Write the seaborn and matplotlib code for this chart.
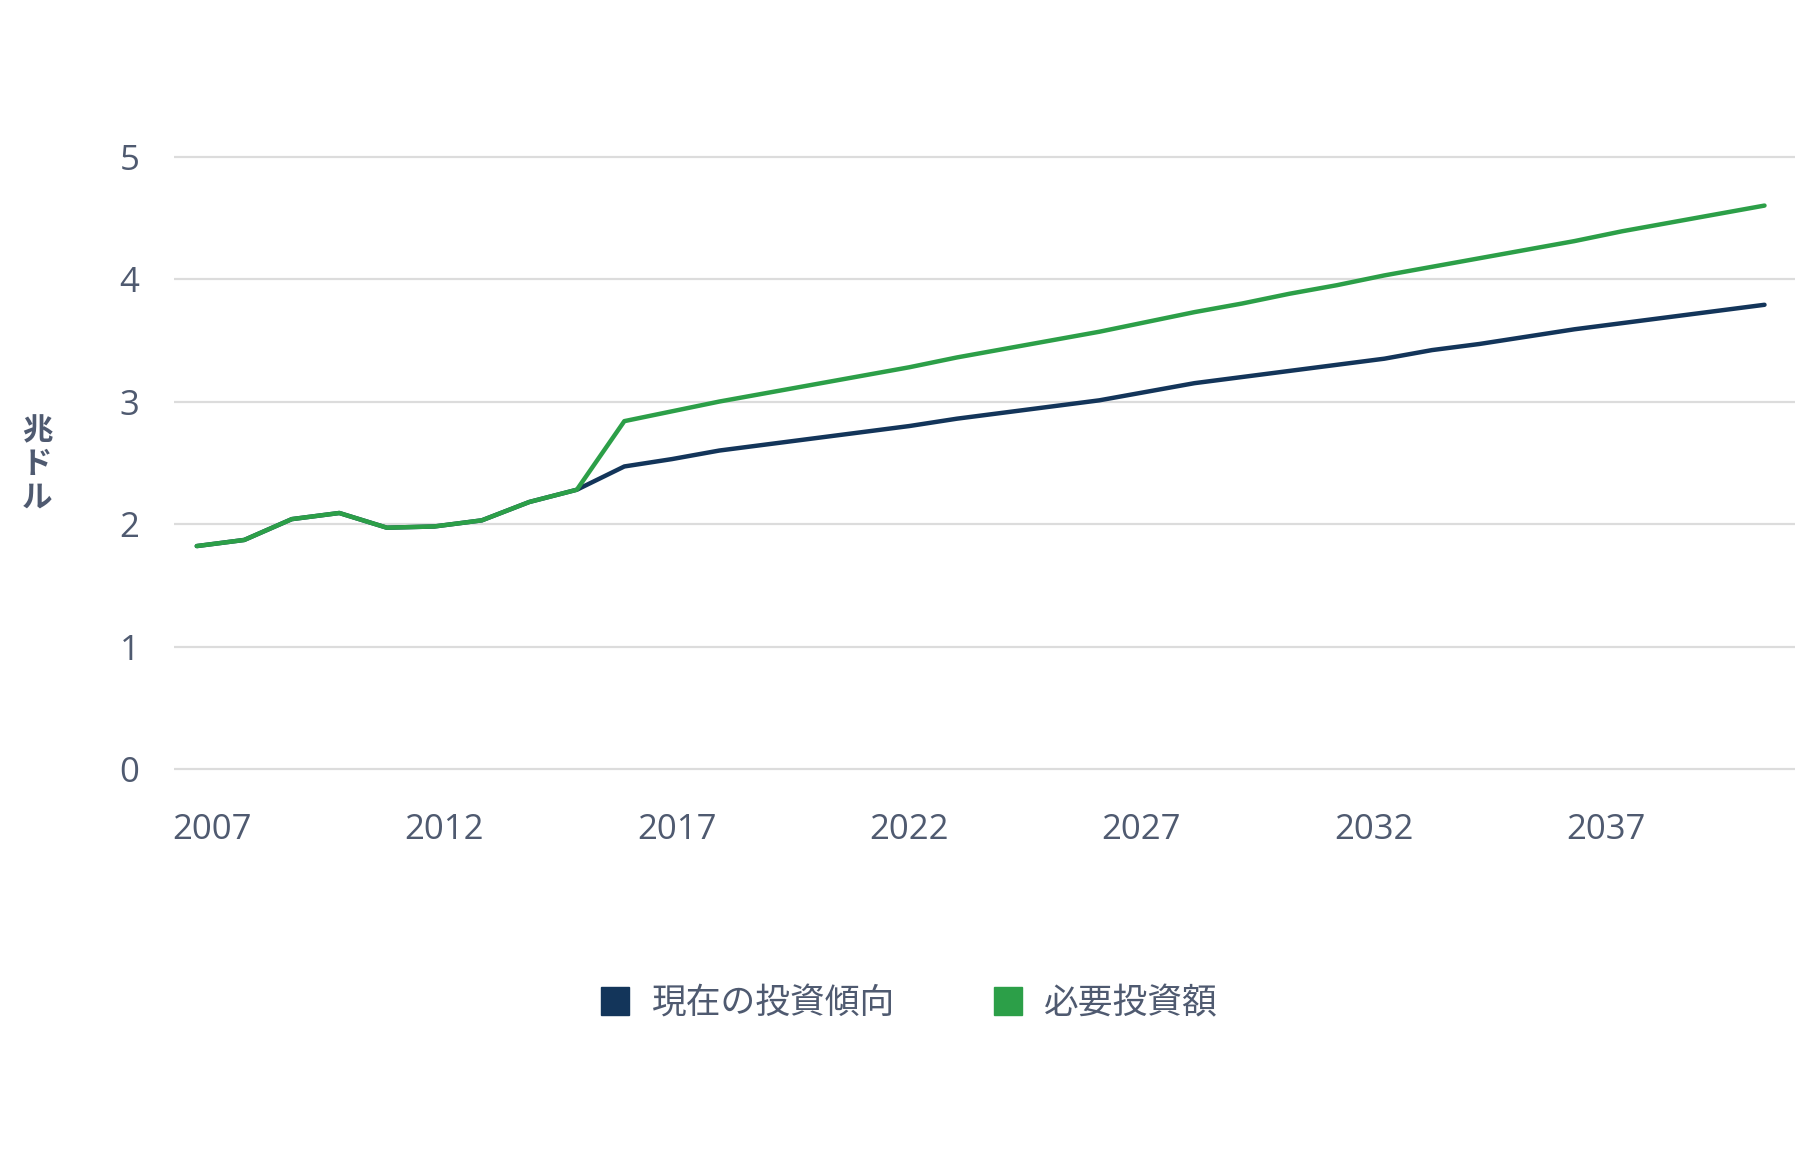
import numpy as np
import pandas as pd
import matplotlib
matplotlib.use("Agg")
import matplotlib.pyplot as plt
from matplotlib.lines import Line2D
import seaborn as sns

years = list(range(2007, 2041))
current_trend = [1.82, 1.87, 2.04, 2.09, 1.97, 1.98, 2.03, 2.18, 2.28,
                 2.47, 2.53, 2.60, 2.65, 2.70, 2.75, 2.80, 2.86, 2.91, 2.96,
                 3.01, 3.08, 3.15, 3.20, 3.25, 3.30, 3.35, 3.42, 3.47, 3.53,
                 3.59, 3.64, 3.69, 3.74, 3.79]
required = [1.82, 1.87, 2.04, 2.09, 1.97, 1.98, 2.03, 2.18, 2.28,
            2.84, 2.92, 3.00, 3.07, 3.14, 3.21, 3.28, 3.36, 3.43, 3.50,
            3.57, 3.65, 3.73, 3.80, 3.88, 3.95, 4.03, 4.10, 4.17, 4.24,
            4.31, 4.39, 4.46, 4.53, 4.60]
series_names = ["現在の投資傾向", "必要投資額"]
series_colors = ["#13355a", "#2c9f48"]
x_ticks = [2007, 2012, 2017, 2022, 2027, 2032, 2037]
y_ticks = [0, 1, 2, 3, 4, 5]
y_label = "兆\nド\nル"

df = pd.DataFrame({
    "year": years * 2,
    "value": current_trend + required,
    "series": [series_names[0]] * len(years) + [series_names[1]] * len(years),
})

sns.set_theme(style="white")
plt.rcParams["font.family"] = ["Open Sans", "Noto Sans CJK JP", "DejaVu Sans"]
text_color = "#4f5a70"

fig = plt.figure(figsize=(18.18, 11.6), dpi=100)
ax = fig.add_axes([0.0957, 0.3318, 0.8916, 0.5385])

sns.lineplot(data=df, x="year", y="value", hue="series", hue_order=series_names,
             palette=series_colors, linewidth=3.2, ax=ax, legend=False,
             estimator=None, sort=True)

ax.set_xlim(2006.52, 2040.64)
ax.set_ylim(-0.05, 5.05)
# tick labels in the reference sit on a slightly compressed scale
tick_pos = [2007.32 + (t - 2007) * 0.978 for t in x_ticks]
ax.set_xticks(tick_pos)
ax.set_xticklabels([str(t) for t in x_ticks])
ax.set_yticks(y_ticks)
ax.set_yticklabels([str(t) for t in y_ticks])
ax.grid(axis="y", color="#dcdcdc", linewidth=1.6)
ax.grid(axis="x", visible=False)
for s in ax.spines.values():
    s.set_visible(False)
ax.tick_params(axis="y", length=0, pad=25, labelsize=25, labelcolor=text_color)
ax.tick_params(axis="x", length=0, pad=27, labelsize=25, labelcolor=text_color)
ax.set_xlabel("")
ax.set_ylabel("")

fig.text(0.0205, 0.60, y_label, ha="center", va="center", fontsize=22,
         fontweight="bold", color=text_color, linespacing=1.05,
         family=["Noto Sans CJK JP", "DejaVu Sans"])

handles = [Line2D([0], [0], marker="s", linestyle="none", markersize=20,
                  markerfacecolor=c, markeredgecolor=c) for c in series_colors]
leg = fig.legend(handles, series_names, loc="center", bbox_to_anchor=(0.5, 0.135),
                 ncol=2, frameon=False, handlelength=0.9,
                 handletextpad=0.6, columnspacing=2.8,
                 prop={"family": ["Noto Sans CJK JP", "DejaVu Sans"], "size": 25})
for t in leg.get_texts():
    t.set_color(text_color)

fig.savefig("out.png", dpi=100, facecolor="white")
